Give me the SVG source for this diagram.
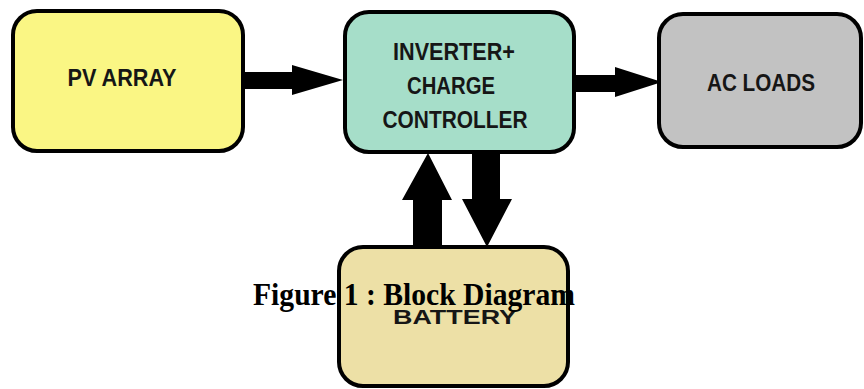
<svg xmlns="http://www.w3.org/2000/svg" width="864" height="389" viewBox="0 0 864 389">
<style>
.box{stroke:#000;stroke-width:4}
.lbl{font-family:"Liberation Sans",Arial,sans-serif;font-weight:bold;fill:#161616;text-anchor:middle}
.arr{fill:#000}
.cap{font-family:"Liberation Serif","Times New Roman",serif;font-weight:bold;font-size:31px;fill:#000}
</style>
<rect width="864" height="389" fill="#fff"/>
<g id="connectors">
<polygon class="arr" points="242,72 292,72 292,65 343,80 292,95 292,89 242,89"/>
<polygon class="arr" points="573,75 615,75 615,67 662,82 615,97 615,92 573,92"/>
<polygon class="arr" points="413,247 413,200 402,200 428,153 452,200 442,200 442,247"/>
<polygon class="arr" points="472,152 500,152 500,199 512,199 487,247 462,199 472,199"/>
</g>
<g id="pv">
<rect class="box" x="13" y="11" width="230" height="140" rx="24" fill="#FAF684"/>
<text class="lbl" x="122" y="86" font-size="24" textLength="109" lengthAdjust="spacingAndGlyphs">PV ARRAY</text>
</g>
<g id="inverter">
<rect class="box" x="345" y="12" width="229" height="140" rx="24" fill="#A6DEC9"/>
<text class="lbl" x="454" y="60" font-size="24" textLength="122" lengthAdjust="spacingAndGlyphs">INVERTER+</text>
<text class="lbl" x="451" y="94" font-size="24" textLength="88" lengthAdjust="spacingAndGlyphs">CHARGE</text>
<text class="lbl" x="455" y="128" font-size="24" textLength="145" lengthAdjust="spacingAndGlyphs">CONTROLLER</text>
</g>
<g id="acloads">
<rect class="box" x="659" y="14" width="202" height="133" rx="24" fill="#C2C2C2"/>
<text class="lbl" x="761" y="91" font-size="24" textLength="108" lengthAdjust="spacingAndGlyphs">AC LOADS</text>
</g>
<g id="battery">
<rect class="box" x="339" y="247" width="229" height="139" rx="24" fill="#EDE0A6"/>
<text class="lbl" x="455" y="324" font-size="21" textLength="124" lengthAdjust="spacingAndGlyphs">BATTERY</text>
</g>
<text class="cap" x="253" y="305" textLength="322" lengthAdjust="spacingAndGlyphs">Figure 1 : Block Diagram</text>
</svg>
